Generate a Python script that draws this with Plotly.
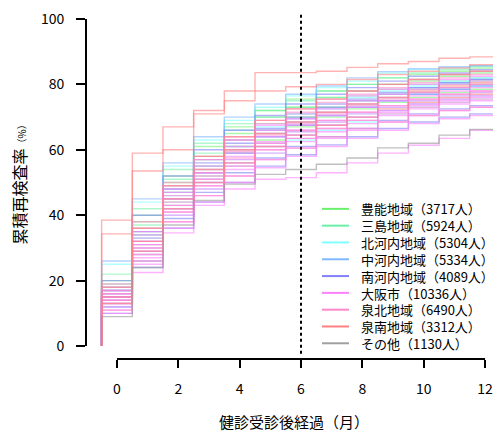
import plotly.graph_objects as go

months = list(range(13))

regions = ["豊能地域", "三島地域", "北河内地域", "中河内地域", "南河内地域",
           "大阪市", "泉北地域", "泉南地域", "その他"]
counts = [3717, 5924, 5304, 5334, 4089, 10336, 6490, 3312, 1130]
colors = ["#6cf06c", "#6cf0a8", "#80ffff", "#80b8ff", "#8080f8",
          "#ff80ff", "#ff88cc", "#ff8080", "#a0a0a0"]
line_rgba = ["rgba(108,240,108,0.55)", "rgba(108,240,168,0.55)", "rgba(128,255,255,0.6)",
             "rgba(128,184,255,0.6)", "rgba(128,128,248,0.6)", "rgba(255,128,255,0.6)",
             "rgba(255,136,204,0.6)", "rgba(255,128,128,0.6)", "rgba(150,150,150,0.6)"]

toyono = [
    [18, 38, 50, 58, 65, 70, 73, 76, 78, 80, 81, 82.5, 83.5],
    [16, 34, 47, 55, 61, 66, 70, 73, 75, 77, 78.5, 80, 81],
    [14, 31, 44, 52, 59, 63, 67, 70, 72.5, 74.5, 76, 77.5, 78.5],
    [20, 40, 52, 61, 67, 72, 75.5, 78, 80, 82, 83, 84, 85],
]
mishima = [
    [22, 42, 54, 62, 68, 72, 75, 78, 80, 82, 83.5, 84.5, 85.5],
    [17, 35, 48, 57, 63, 68, 71, 74, 76.5, 78.5, 80, 81, 82],
    [15, 33, 46, 54, 60, 65, 68.5, 71.5, 74, 76, 77.5, 79, 80],
    [19, 37, 51, 59, 66, 70, 73, 76, 78, 80, 81.5, 83, 84],
]
kitakawachi = [
    [25, 44, 55, 63, 69, 73, 76.5, 79, 81, 83.5, 84.5, 85, 85.7],
    [18, 36, 49, 57, 63, 67, 71, 74, 76, 78, 79.5, 81, 82],
    [14, 30, 43, 51, 57, 62, 65.5, 68.5, 71, 73, 75, 76.5, 77.5],
    [16, 33, 45, 53, 59, 64, 67.5, 70.5, 73, 75, 77, 78.5, 79.5],
    [12, 28, 40, 48, 55, 59, 63, 66, 68.5, 71, 73, 74.5, 75.5],
]
nakakawachi = [
    [26, 45, 56, 64, 70, 74, 77, 79.5, 82, 83.9, 84.8, 85.4, 85.7],
    [17, 34, 47, 55, 61, 66, 69.5, 72.5, 75, 77, 79, 80.5, 81.5],
    [13, 29, 42, 50, 56, 61, 64.5, 67.5, 70, 72, 74, 75.5, 76.5],
]
minamikawachi = [
    [20, 40, 52, 60, 66, 70.5, 74, 77, 79, 81, 82.5, 83.5, 84.5],
    [15, 32, 45, 53, 59, 64, 67.5, 70.5, 73, 75, 77, 78.5, 79.5],
    [12, 26, 39, 47, 53, 57.5, 61, 64, 66.5, 69, 71, 72.5, 73.5],
    [17, 35, 48, 56, 62, 66.5, 70, 73, 75.5, 77.5, 79, 80.5, 81.5],
    [10, 24, 36, 44, 50, 55, 58.5, 61.5, 64, 66.5, 68.5, 70, 71],
]
osaka = [
    [16, 33, 46, 54, 60, 65, 68.5, 71.5, 74, 76, 77.5, 79, 80],
    [15, 31, 44, 52, 58, 62.5, 66, 69, 71.5, 73.5, 75.5, 77, 78],
    [14, 30, 42, 50, 56, 61, 64.5, 67.5, 70, 72, 74, 75.5, 76.5],
    [17, 34, 47, 55, 61, 66, 69.5, 72.5, 75, 77, 78.5, 80, 81],
    [13, 28, 40, 48, 54, 59, 62.5, 65.5, 68, 70.5, 72.5, 74, 75],
    [18, 35, 48, 57, 63, 67.5, 71, 74, 76.5, 78.5, 80, 81.5, 82.5],
    [12, 27, 38, 46, 52, 57, 60.5, 63.5, 66, 68.5, 70.5, 72, 73],
    [15, 32, 45, 53, 59, 64, 67.5, 70.5, 73, 75, 76.5, 78, 79],
    [11, 25, 36, 44, 50, 54.5, 58, 61, 63.5, 66, 68, 69.5, 70.5],
    [16, 31, 43, 51, 57, 62, 65.5, 68.5, 71, 73, 75, 76.5, 77.5],
    [10, 22.5, 34.6, 43, 48, 51, 51.5, 53, 56, 59, 61.4, 63.5, 66],
    [14, 29, 41, 49, 55, 60, 63.5, 66.5, 69, 71.5, 73.5, 75, 76],
]
senboku = [
    [19, 38, 50, 58, 64, 69, 72.5, 75.5, 78, 80, 81.5, 83, 84],
    [16, 32, 45, 53, 59.5, 64.5, 68, 71, 73.5, 75.5, 77.5, 79, 80],
    [14, 30, 43, 51, 57.5, 62, 66, 69, 71.5, 73.5, 75.5, 77, 78],
    [13, 28, 41, 49, 55, 60, 63.5, 66.5, 69, 71, 73, 74.5, 75.5],
    [17, 36, 49, 57, 63, 68, 71.5, 74.5, 77, 79, 80.5, 82, 83],
    [11, 26, 38, 46, 52, 57, 60.5, 64, 66.5, 68.5, 70.5, 72, 73],
]
sennan = [
    [38.5, 59, 67, 72, 78, 83.6, 83.6, 84, 85.2, 86.3, 87, 88, 88.4],
    [34.3, 53.5, 60, 71, 75, 78, 79.3, 80, 81.5, 83, 84, 85, 86],
    [18, 36, 49, 58, 64, 69, 72.5, 75.5, 78, 80, 81.5, 83, 84],
    [15, 32, 45, 54, 60, 65, 68.5, 71.5, 74, 76, 78, 79.5, 80.5],
    [13, 29, 42, 50, 56, 61, 64.5, 67.5, 70, 72.5, 74.5, 76, 77],
]
others = [
    [9, 24, 37, 44.5, 49.5, 52.5, 54, 55.6, 57.5, 60.6, 62, 64.5, 66.2],
]
series = [toyono, mishima, kitakawachi, nakakawachi, minamikawachi,
          osaka, senboku, sennan, others]

y_ticks = [0, 20, 40, 60, 80, 100]
x_ticks = [0, 2, 4, 6, 8, 10, 12]
ref_month = 6

# figure sits 8px inside the window (page body margin)
OFF = 8
W, H = 501 - OFF, 432 - OFF
XMIN, XMAX = -1.01, 12.52
YMIN, YMAX = -3.95, 102.74
FONT = "Noto Sans CJK JP, Noto Sans, sans-serif"

left, top, bottom = 86 - OFF, 0, 359 - OFF
plot_w, plot_h = W - left, bottom - top

fig = go.Figure()
# step edges: each month value spans month-0.5 .. month+0.5, starting from 0
xs = [months[0] - 0.5] + [m - 0.5 for m in months] + [months[-1] + 0.5]
for reg, col, lines in zip(regions, line_rgba, series):
    for vals in lines:
        ys = [0] + list(vals) + [vals[-1]]
        fig.add_trace(go.Scatter(x=xs, y=ys, mode="lines", line_shape="hv",
                                 line=dict(color=col, width=1.4),
                                 name=reg, showlegend=False, hoverinfo="skip"))


def px_x(v):
    return (v - XMIN) / (XMAX - XMIN)


def px_y(v):
    return (v - YMIN) / (YMAX - YMIN)


def win_y(ypix):
    # window pixel y -> paper coordinate
    return 1 - (ypix - OFF - top) / plot_h


def win_x(xpix):
    return (xpix - OFF - left) / plot_w


shapes = []
# reference dotted line at 6 months
shapes.append(dict(type="line", xref="x", yref="paper", x0=ref_month, x1=ref_month,
                   y0=0.015, y1=0.99, line=dict(color="black", width=2, dash="dot")))
# R-style axis lines spanning the tick range
shapes.append(dict(type="line", xref="paper", yref="paper", x0=0, x1=0,
                   y0=px_y(y_ticks[0]), y1=px_y(y_ticks[-1]),
                   line=dict(color="black", width=2)))
shapes.append(dict(type="line", xref="paper", yref="paper", x0=px_x(x_ticks[0]),
                   x1=px_x(x_ticks[-1]), y0=0, y1=0,
                   line=dict(color="black", width=2)))

# manual legend (compact row spacing like the original)
ROW0, ROWSTEP, LEG_FS = 208, 16.9, 13
annotations = []
for i, col in enumerate(colors):
    yp = win_y(ROW0 + i * ROWSTEP)
    shapes.append(dict(type="line", xref="paper", yref="paper",
                       x0=win_x(322), x1=win_x(349),
                       y0=yp, y1=yp, line=dict(color=col, width=2)))
legend_text = "<br>".join(f"{reg}（{n}人）" for reg, n in zip(regions, counts))
annotations.append(dict(xref="paper", yref="paper", x=win_x(360),
                        y=win_y(ROW0 + 4 * ROWSTEP),
                        xanchor="left", yanchor="middle", align="left", showarrow=False,
                        borderpad=0, text=legend_text,
                        font=dict(size=LEG_FS, color="black", family=FONT)))

annotations.append(dict(xref="paper", yref="paper", x=win_x(19), y=px_y(50),
                        xanchor="center", yanchor="middle", showarrow=False, textangle=-90,
                        text="累積再検査率<span style='font-size:10px'>（%）</span>",
                        font=dict(size=16, color="black", family=FONT)))
annotations.append(dict(xref="paper", yref="paper", x=0.5, y=win_y(422),
                        xanchor="center", yanchor="middle", showarrow=False,
                        text="健診受診後経過（月）",
                        font=dict(size=15, color="black", family=FONT)))

fig.update_layout(
    width=W, height=H,
    margin=dict(l=left, r=0, t=top, b=H - bottom),
    paper_bgcolor="white", plot_bgcolor="white",
    showlegend=False,
    shapes=shapes, annotations=annotations,
    font=dict(family=FONT, color="black"),
    xaxis=dict(range=[XMIN, XMAX], tickvals=x_ticks, ticks="outside", ticklen=8,
               tickwidth=2, tickcolor="black", showgrid=False, zeroline=False,
               showline=False, tickfont=dict(size=14), ticklabelstandoff=9,
               ticklabeloverflow="allow"),
    yaxis=dict(range=[YMIN, YMAX], tickvals=y_ticks, ticks="outside", ticklen=9,
               tickwidth=2, tickcolor="black", showgrid=False, zeroline=False,
               showline=False, tickfont=dict(size=14), ticklabelstandoff=9,
               ticklabeloverflow="allow"),
)

fig.write_html("out.html")
